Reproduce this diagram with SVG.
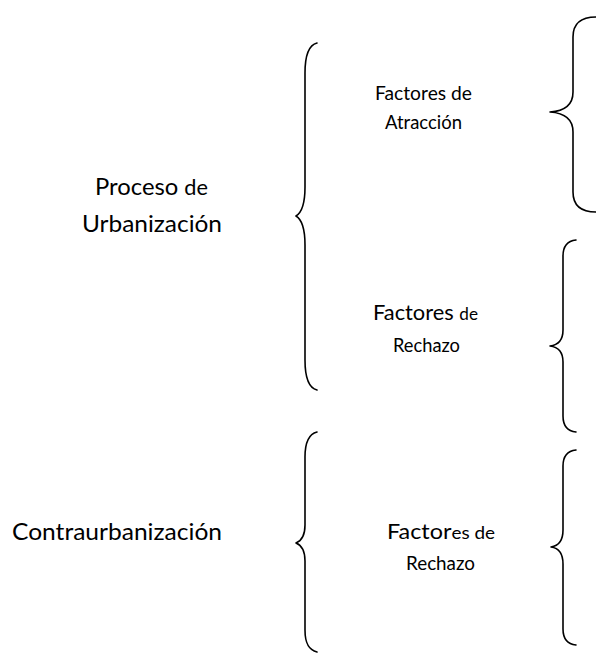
<svg xmlns="http://www.w3.org/2000/svg" width="596" height="653" viewBox="0 0 596 653">
<style>
.t{font-family:Lato,"Open Sans","Liberation Sans",sans-serif;fill:#000}
.b{fill:none;stroke:#000;stroke-width:1.6;stroke-linecap:round;stroke-linejoin:round}
</style>
<rect width="596" height="653" fill="#fff"/>
<g id="proceso">
<text class="t" x="95" y="195" font-size="23" textLength="113" lengthAdjust="spacingAndGlyphs">Proceso <tspan font-size="21">de</tspan></text>
<text class="t" x="82" y="232" font-size="23" textLength="140" lengthAdjust="spacingAndGlyphs">Urbanización</text>
</g>
<g id="contra">
<text class="t" x="12" y="540" font-size="23" textLength="210" lengthAdjust="spacingAndGlyphs">Contraurbanización</text>
</g>
<g id="atraccion">
<text class="t" x="375" y="100" font-size="18.5" textLength="97" lengthAdjust="spacingAndGlyphs">Factores de</text>
<text class="t" x="385" y="128.5" font-size="18.5" textLength="77" lengthAdjust="spacingAndGlyphs">Atracción</text>
</g>
<g id="rechazo1">
<text class="t" x="373" y="320" font-size="21" textLength="105" lengthAdjust="spacingAndGlyphs">Factores <tspan font-size="16.5">de</tspan></text>
<text class="t" x="393" y="352" font-size="18.5" textLength="67" lengthAdjust="spacingAndGlyphs">Rechazo</text>
</g>
<g id="rechazo2">
<text class="t" x="387" y="538.5" font-size="21" textLength="108" lengthAdjust="spacingAndGlyphs">Factor<tspan font-size="17">es de</tspan></text>
<text class="t" x="406" y="570" font-size="18.5" textLength="69" lengthAdjust="spacingAndGlyphs">Rechazo</text>
</g>
<g id="connectors">
<path class="b" d="M317,43 C309,45 305,55 305,73 L305,187 C305,205 301,213 296,216 C301,219 305,227 305,245 L305,360 C305,378 309,388 317,390"/>
<path class="b" d="M596,17 C582,17 573,22 573,37 L573,92 C573,105 565,111 550,112 C565,113 573,119 573,132 L573,192 C573,206 582,212 596,212"/>
<path class="b" d="M576,240 C567,241 563,247 563,256 L563,330 C563,340 558,345 550,346 C558,347 563,352 563,362 L563,416 C563,425 567,431 576,432"/>
<path class="b" d="M576,450 C567,451 563,457 563,466 L563,530 C563,541 558,546 551,547 C558,548 563,553 563,564 L563,629 C563,638 567,644 576,645"/>
<path class="b" d="M317,432 C309,434 305,443 305,457 L305,525 C305,537 301,541 296,543 C301,545 305,549 305,561 L305,630 C305,644 309,650 317,652"/>
</g>
</svg>
